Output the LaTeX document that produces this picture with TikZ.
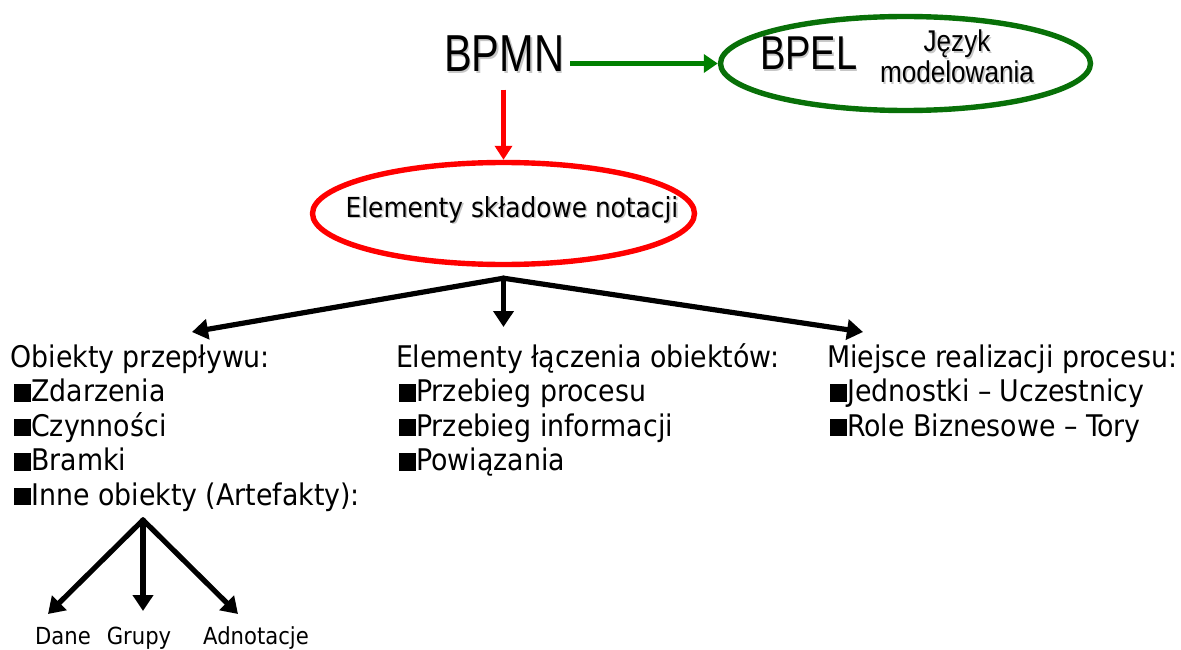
\documentclass[tikz,border=0pt]{standalone}
\usepackage{fontspec}
\setmainfont{DejaVu Sans Condensed}
\newfontfamily\narrowfont[FakeStretch=0.8]{Liberation Sans}
\newfontfamily\semifont[FakeStretch=0.87]{Liberation Sans}
\usetikzlibrary{arrows.meta,shapes.geometric,calc}

\definecolor{flowgreen}{RGB}{0,128,0}
\definecolor{ringgreen}{RGB}{8,112,8}
\definecolor{ringred}{RGB}{255,0,0}

% text with a soft grey drop shadow
\newcommand\shadowed[1]{\makebox[0pt][l]{\hspace{1.6pt}\raisebox{-1.6pt}{\color{black!22}#1}}#1}
% square list bullet
\newcommand\sqbullet{\rule{0.58em}{0.58em}}

\tikzset{
  plain/.style={inner sep=0pt, outer sep=0pt},
  headtxt/.style={plain, anchor=base west, font=\fontsize{29.8}{34}\selectfont},
  itemtxt/.style={headtxt},
  leaftxt/.style={plain, anchor=base, font=\fontsize{23.5}{26}\selectfont},
  ring/.style={ellipse, line width=5.4pt, inner sep=0pt},
  garrow/.style={draw=flowgreen, line width=5.6pt, -{Triangle[length=14pt,width=18pt]}},
  rarrow/.style={draw=ringred, line width=5.6pt, -{Triangle[length=14pt,width=17pt]}},
  karrow/.style={draw=black, line width=5.2pt, line cap=round, -{Triangle[length=16pt,width=20pt]}},
}

\begin{document}
\begin{tikzpicture}[x=1pt, y=-1pt]
\useasboundingbox (0,0) rectangle (1181,650);

% top: BPMN and its target language
\node[plain, anchor=base west, font=\narrowfont\fontsize{52}{52}\selectfont] (bpmn) at (444,72) {\shadowed{BPMN}};
\node[ring, draw=ringgreen, minimum width=370pt, minimum height=94pt] (bpel) at (905.5,63.5) {};
\node[plain, anchor=base west, font=\narrowfont\fontsize{47.5}{48}\selectfont] (bpeltxt) at (760,70) {\shadowed{BPEL}};
\node[plain, anchor=base, font=\semifont\fontsize{30}{30}\selectfont] (jezyk) at (957,52) {\shadowed{Język}};
\node[plain, anchor=base, font=\semifont\fontsize{30}{30}\selectfont] (model) at (957,83) {\shadowed{modelowania}};

\draw[garrow] ([xshift=6pt]bpmn.east |- bpel.west) -- (bpel.west);

% notation elements
\node[ring, draw=ringred, minimum width=382pt, minimum height=102pt] (elem) at (503.5,213.5) {};
\node[plain, anchor=base, font=\fontsize{27.6}{30}\selectfont] (elemtxt) at (512,217) {\shadowed{Elementy składowe notacji}};

\draw[rarrow] ([yshift=-16pt]bpmn.south -| elem.north) -- (elem.north);

% fork into three groups
\coordinate (fork) at ($(elem.south)+(0,11)$);
\coordinate (tipL) at (192,332);
\coordinate (tipM) at ($(fork |- 0,327)$);
\coordinate (tipR) at (863,332);
\draw[karrow] (fork) -- (tipL);
\draw[karrow] (fork) -- (tipM);
\draw[karrow] (fork) -- (tipR);

% left column
\node[headtxt] (obj)  at (10.5,367)  {Obiekty przepływu:};
\node[itemtxt] (obj1) at (14,401.5)  {\sqbullet Zdarzenia};
\node[itemtxt] (obj2) at (14,436)    {\sqbullet Czynności};
\node[itemtxt] (obj3) at (14,470.5)  {\sqbullet Bramki};
\node[itemtxt] (obj4) at (14,505)    {\sqbullet Inne obiekty (Artefakty):};

% middle column
\node[headtxt] (con)  at (396,367)   {Elementy łączenia obiektów:};
\node[itemtxt] (con1) at (399,401.5) {\sqbullet Przebieg procesu};
\node[itemtxt] (con2) at (399,436)   {\sqbullet Przebieg informacji};
\node[itemtxt] (con3) at (399,470.5) {\sqbullet Powiązania};

% right column
\node[headtxt] (loc)  at (827,367)   {Miejsce realizacji procesu:};
\node[itemtxt] (loc1) at (830,401.5) {\sqbullet Jednostki – Uczestnicy};
\node[itemtxt] (loc2) at (830,436)   {\sqbullet Role Biznesowe – Tory};

% artefact kinds
\coordinate (art) at (143,520);
\node[leaftxt] (dane)  at (63,644)  {Dane};
\node[leaftxt] (grupy) at (139,644) {Grupy};
\node[leaftxt] (adno)  at (256,644) {Adnotacje};
\coordinate (tipD) at (48,614);
\coordinate (tipG) at (143,611);
\coordinate (tipA) at (238,614);
\draw[karrow] (art) -- (tipD);
\draw[karrow] (art) -- (tipG);
\draw[karrow] (art) -- (tipA);
\end{tikzpicture}
\end{document}
